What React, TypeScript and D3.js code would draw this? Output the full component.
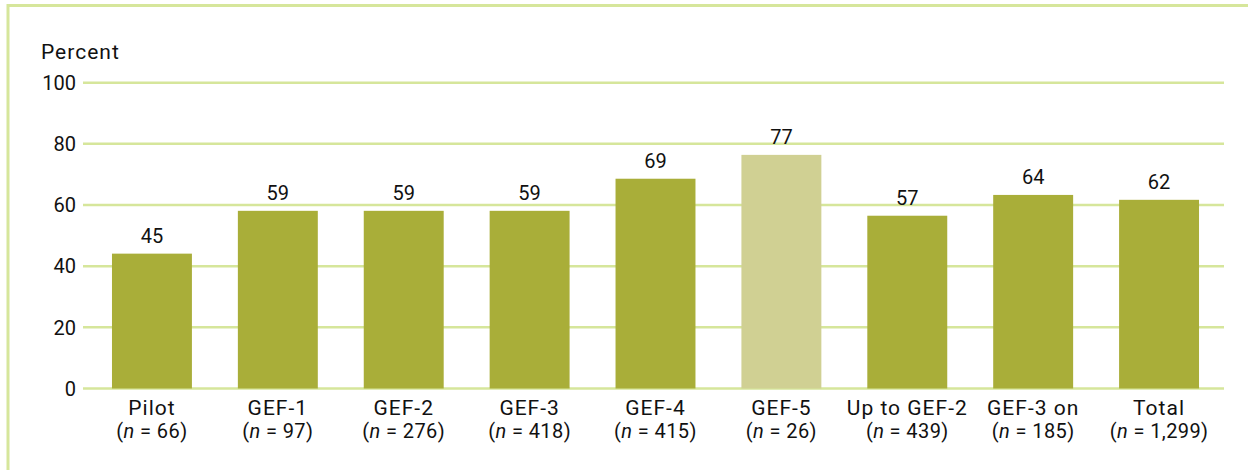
import React from "react";
import * as d3 from "d3";

const categories = ["Pilot", "GEF-1", "GEF-2", "GEF-3", "GEF-4", "GEF-5", "Up to GEF-2", "GEF-3 on", "Total"];
const sampleSizes = ["66", "97", "276", "418", "415", "26", "439", "185", "1,299"];
// bar heights
const barValues = [44.1, 58.1, 58.1, 58.1, 68.6, 76.4, 56.5, 63.3, 61.7];
// printed value labels
const valueLabels = ["45", "59", "59", "59", "69", "77", "57", "64", "62"];
const highlighted = ["GEF-5"];
const yTicks = [0, 20, 40, 60, 80, 100];
const yLabel = "Percent";

const W = 1248;
const H = 470;
const FONT = "Roboto, 'DejaVu Sans', sans-serif";
const BAR = "#a9ae39";
const BAR_LIGHT = "#d0d093";
const GRID = "#d6e69b";
const TEXT = "#111";

export default function App() {
  const x = d3
    .scaleBand<string>()
    .domain(categories)
    .range([89, 1222])
    .paddingInner(0.365)
    .paddingOuter(0.1825);
  const y = d3.scaleLinear().domain([0, 100]).range([388.5, 82.7]);
  const gridX0 = 83;
  const gridX1 = 1224;

  return (
    <svg
      width={W}
      height={H}
      style={{ position: "absolute", left: 0, top: 0, background: "#fff" }}
      fontFamily={FONT}
    >
      {/* frame */}
      <line x1={7} x2={W} y1={5.5} y2={5.5} stroke={GRID} strokeWidth={3} />
      <line x1={8} x2={8} y1={4} y2={H} stroke={GRID} strokeWidth={3} />

      <text x={41} y={59} fontSize={21} letterSpacing={1} fill={TEXT}>
        {yLabel}
      </text>

      {yTicks.map((t) => (
        <g key={t}>
          <line x1={gridX0} x2={gridX1} y1={y(t)} y2={y(t)} stroke={GRID} strokeWidth={2.5} />
          <text x={76} y={y(t)} dy="0.36em" textAnchor="end" fontSize={20} fill={TEXT}>
            {t}
          </text>
        </g>
      ))}

      {categories.map((c, i) => {
        const bx = x(c)!;
        const bw = x.bandwidth();
        const cx = bx + bw / 2;
        return (
          <g key={c}>
            <rect
              x={bx}
              y={y(barValues[i])}
              width={bw}
              height={y(0) - y(barValues[i])}
              fill={highlighted.includes(c) ? BAR_LIGHT : BAR}
            />
            <text x={cx} y={y(barValues[i]) - 11} textAnchor="middle" fontSize={20} fill={TEXT}>
              {valueLabels[i]}
            </text>
            <text x={cx} y={415} textAnchor="middle" fontSize={21} letterSpacing={1} fill={TEXT}>
              {c}
            </text>
            <text x={cx} y={438} textAnchor="middle" fontSize={20} letterSpacing={0.4} fill={TEXT}>
              (<tspan fontStyle="italic">n</tspan> = {sampleSizes[i]})
            </text>
          </g>
        );
      })}
    </svg>
  );
}
